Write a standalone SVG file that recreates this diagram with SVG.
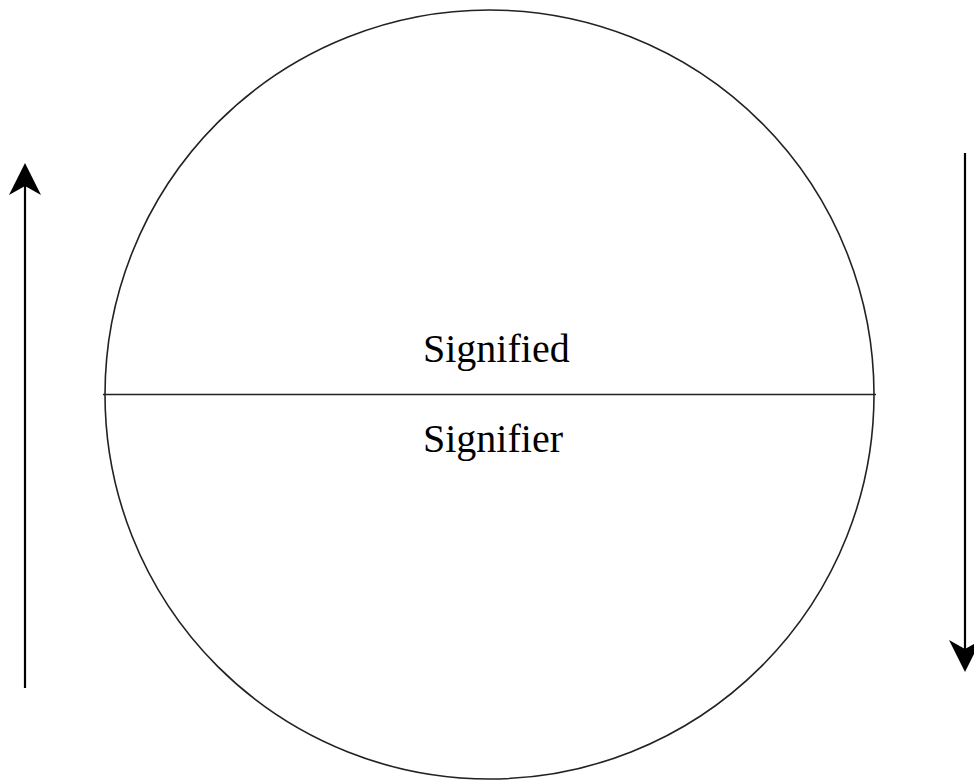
<svg xmlns="http://www.w3.org/2000/svg" width="974" height="783" viewBox="0 0 974 783">
<style>
.shape{fill:none;stroke:#222;stroke-width:1.6}
.arrow{stroke:#000;stroke-width:2.2;fill:none}
.head{fill:#000;stroke:none}
.lbl{font-family:"Liberation Serif","Times New Roman",serif;font-size:40px;fill:#000}
</style>
<rect width="974" height="783" fill="#fff"/>
<g id="circle-node">
<circle class="shape" cx="489.5" cy="394.5" r="384.5"/>
<line class="shape" x1="103" y1="394.5" x2="876" y2="394.5"/>
</g>
<g id="signified-node">
<text class="lbl" x="423" y="362">Signified</text>
</g>
<g id="signifier-node">
<text class="lbl" x="423" y="452">Signifier</text>
</g>
<g id="connectors">
<line class="arrow" x1="25" y1="688" x2="25" y2="185"/>
<path class="head" d="M25,163 L41,195 L25,186 L9,195 Z"/>
<line class="arrow" x1="965" y1="153" x2="965" y2="650"/>
<path class="head" d="M965,672 L949,640 L965,649 L981,640 Z"/>
</g>
</svg>
